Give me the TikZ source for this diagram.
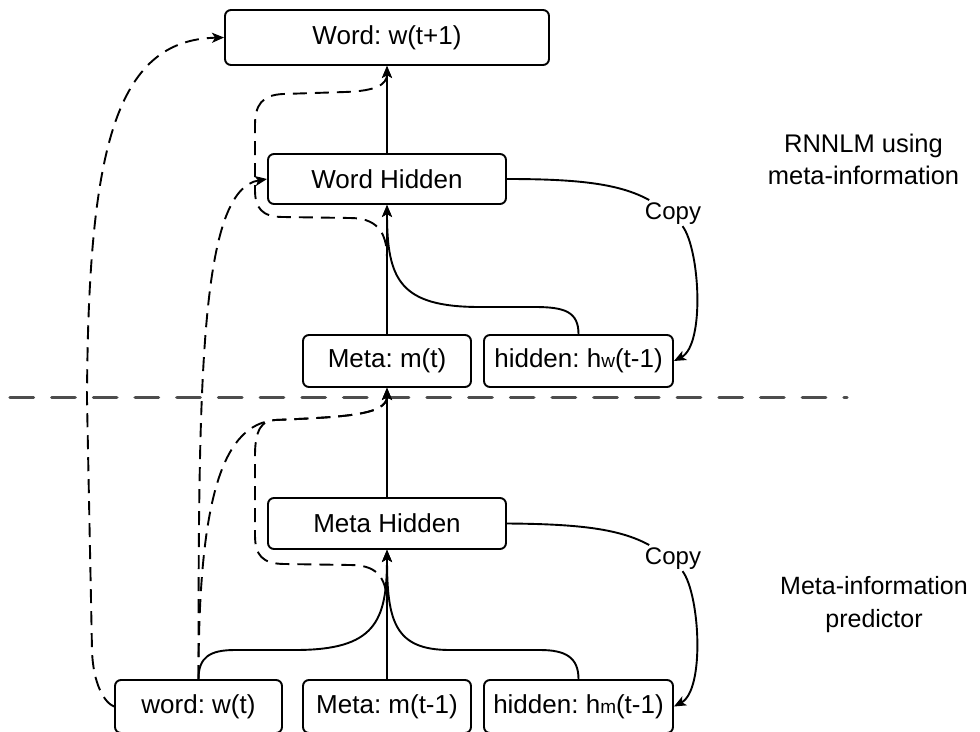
\documentclass[tikz,border=0pt]{standalone}
\usepackage{fontspec}
\setmainfont{Liberation Sans}
\usetikzlibrary{arrows.meta}
\definecolor{divgray}{HTML}{4D4D4D}
\newcommand\smallsub[1]{{\fontsize{19}{20}\selectfont #1}}
\frenchspacing
\begin{document}
\begin{tikzpicture}[x=1pt,y=-1pt,
  box/.style={draw, line width=1.9pt, rounded corners=6pt, inner sep=0pt,
              font=\fontsize{26}{31}\selectfont},
  conn/.style={line width=1.9pt, -{Stealth[length=12pt,width=10pt,inset=3pt]}},
  dconn/.style={conn, dash pattern=on 14pt off 8pt},
  cline/.style={line width=1.9pt},
  lbl/.style={inner sep=2pt, font=\fontsize{24}{28}\selectfont},
  side/.style={align=center, inner sep=0pt, font=\fontsize{25.5}{32}\selectfont},
  divider/.style={line width=3.3pt, draw=divgray, line cap=round,
                  dash pattern=on 23.5pt off 18.2pt}]
\useasboundingbox (0,0) rectangle (980,731);

% ---- RNNLM part ----
\node[box, minimum width=324pt, minimum height=55pt] (wo) at (387,37.5) {Word: w(t+1)};
\node[box, minimum width=238pt, minimum height=50pt] (wh) at (387,179) {Word Hidden};
\node[box, minimum width=168pt, minimum height=52pt] (mt) at (387,361) {Meta: m(t)};
\node[box, minimum width=189pt, minimum height=52pt] (hw) at (578.5,361) {hidden: h\smallsub{w}(t-1)};

% ---- meta-information predictor ----
\node[box, minimum width=238pt, minimum height=51pt] (mh) at (387,523.5) {Meta Hidden};
\node[box, minimum width=167pt, minimum height=53pt] (ww) at (198.5,706.5) {word: w(t)};
\node[box, minimum width=168pt, minimum height=53pt] (mm) at (387,706.5) {Meta: m(t-1)};
\node[box, minimum width=189pt, minimum height=53pt] (hm) at (578.5,706.5) {hidden: h\smallsub{m}(t-1)};

% ---- side captions ----
\node[side] (rnn) at (863.5,159.5) {RNNLM using\\meta-information};
\node[side, font=\fontsize{25}{33}\selectfont] (mip) at (874,605) {Meta-information\\predictor};

% ---- divider between the two networks ----
\coordinate (divL) at (10,397.7);
\coordinate (divR) at (847,397.7);
\draw[divider] (divL) -- (divR);

% ---- copy labels ----
\node[lbl, anchor=base] (cp1) at (673,219) {Copy};
\node[lbl, anchor=base] (cp2) at (673,564) {Copy};

% ---- solid connectors, upper ----
\draw[conn] (wh.north) -- (wo.south);
\draw[conn] (mt.north) -- (wh.south);
\draw[conn] (hw.north) .. controls (578.5,312) and (565,307) .. (535,307)
  -- (480,307) .. controls (400,307) and (387,280) .. (wh.south);
\draw[cline] (wh.east) .. controls (580,179) and (620,184) .. (cp1);
\draw[conn] (cp1) .. controls (700,250) and (705,345) .. (hw.east);

% ---- solid connectors, lower ----
\draw[conn] (mh.north) -- (mt.south);
\draw[conn] (mm.north) -- (mh.south);
\draw[conn] (ww.north) .. controls (198.5,657) and (210,650) .. (235,650)
  -- (295,650) .. controls (375,650) and (387,622) .. (mh.south);
\draw[conn] (hm.north) .. controls (578.5,657) and (565,650) .. (540,650)
  -- (450,650) .. controls (395,650) and (387,622) .. (mh.south);
\draw[cline] (mh.east) .. controls (580,524) and (620,529) .. (cp2);
\draw[conn] (cp2) .. controls (700,595) and (705,690) .. (hm.east);

% ---- dashed connectors ----
\draw[dconn] (ww.west) .. controls (105,703) and (93,685) .. (92,650)
  -- (87,400) .. controls (88,150) and (115,40) .. (wo.west);
\draw[dconn] (ww.north) .. controls (198.5,380) and (200,190) .. (wh.west);
\draw[dconn] (ww.north) .. controls (198.5,490) and (225,425) .. (275,420)
  .. controls (345,417) and (387,415) .. (mt.south);
\draw[dconn] (mm.north) -- (387,605) .. controls (387,575) and (375,565) .. (350,565)
  -- (285,564) .. controls (262,564) and (255,555) .. (255,535)
  -- (255,455) .. controls (255,430) and (262,420) .. (275,420)
  .. controls (345,417) and (387,415) .. (mt.south);
\draw[dconn] (mt.north) -- (387,258) .. controls (387,230) and (375,218) .. (350,218)
  -- (283,217) .. controls (262,217) and (255,208) .. (255,190)
  -- (255,125) .. controls (255,105) and (262,95) .. (283,94)
  -- (345,92) .. controls (375,91) and (387,85) .. (wo.south);
\end{tikzpicture}
\end{document}
